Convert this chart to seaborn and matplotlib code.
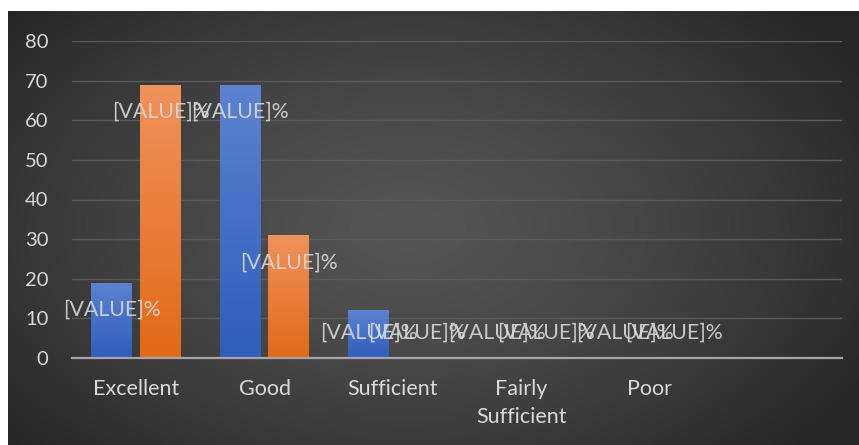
import numpy as np
import pandas as pd
import matplotlib
matplotlib.use("Agg")
import matplotlib.pyplot as plt
import seaborn as sns

# --- data ---
categories = ["Excellent", "Good", "Sufficient", "Fairly\nSufficient", "Poor", ""]
series_1 = [19, 69, 12, 0, 0, np.nan]
series_2 = [69, 31, 0, 0, 0, np.nan]
series_names = ["Series 1", "Series 2"]
y_ticks = [0, 10, 20, 30, 40, 50, 60, 70, 80]

df = pd.DataFrame({
    "category": categories * 2,
    "value": series_1 + series_2,
    "series": [series_names[0]] * len(categories) + [series_names[1]] * len(categories),
})

sns.set_theme(style="dark")
plt.rcParams["font.family"] = ["Lato", "DejaVu Sans"]

W, H = 859, 445
fig = plt.figure(figsize=(W / 100, H / 100), dpi=100, facecolor="white")

# dark panel with a radial gradient, like the Office chart style
bg = fig.add_axes([8 / W, 0, (W - 8) / W, (H - 11) / H])
bg.set_axis_off()
yy, xx = np.mgrid[0:1:300j, 0:1:600j]
r = np.sqrt(((xx - 0.47) / 0.62) ** 2 + ((yy - 0.50) / 0.75) ** 2)
r = np.clip(r, 0, 1)
shade = 0.33 - 0.18 * r ** 1.4
bg.imshow(np.dstack([shade] * 3), aspect="auto", extent=[0, 1, 0, 1])

ax = fig.add_axes([72 / W, (H - 358) / H, 770 / W, 317 / H])
ax.patch.set_alpha(0)

blue = "#4472c4"
orange = "#ed7d31"
sns.barplot(data=df, x="category", y="value", hue="series", order=categories,
            hue_order=series_names, palette=[blue, orange], width=0.76, gap=0.16,
            saturation=1, legend=False, ax=ax, linewidth=0)

# vertical gradients inside the bars
grads = {
    blue: np.array([[0x5d, 0x83, 0xcf], [0x2e, 0x5d, 0xbc]]) / 255,
    orange: np.array([[0xf0, 0x92, 0x5c], [0xe2, 0x6a, 0x18]]) / 255,
}
t = np.linspace(0, 1, 100)[:, None]
for patch in ax.patches:
    h = patch.get_height()
    if not np.isfinite(h) or h <= 0:
        continue
    fc = np.array(patch.get_facecolor()[:3])
    key = blue if np.abs(fc - np.array(matplotlib.colors.to_rgb(blue))).sum() < 0.1 else orange
    top, bot = grads[key]
    img = (top[None, :] * (1 - t) + bot[None, :] * t)[:, None, :]
    x0 = patch.get_x()
    im = ax.imshow(img, aspect="auto", extent=[x0, x0 + patch.get_width(), 0, h],
                   zorder=patch.get_zorder() + 0.1)
    im.set_clip_path(patch)

ax.set_xlim(-0.5, len(categories) - 0.5)
ax.set_ylim(0, 80)
ax.set_yticks(y_ticks)
ax.set_xlabel("")
ax.set_ylabel("")

txt = "#d9d9d9"
ax.tick_params(axis="y", length=0, pad=17, labelsize=14.5, labelcolor=txt)
ax.tick_params(axis="x", length=0, pad=15, labelsize=15.5, labelcolor=txt)
for lbl in ax.get_xticklabels():
    lbl.set_linespacing(1.5)
    lbl.set_verticalalignment("top")

for s in ["top", "right", "left"]:
    ax.spines[s].set_visible(False)
ax.spines["bottom"].set_color("#a6a6a6")
ax.spines["bottom"].set_linewidth(1.6)
ax.grid(axis="y", color="#5a5a5a", linewidth=1.0)
ax.grid(axis="x", visible=False)
ax.set_axisbelow(True)

# "[VALUE]%" placeholder labels, slightly below the bar tops
for patch in ax.patches:
    h = patch.get_height()
    if not np.isfinite(h):
        continue
    xc = patch.get_x() + patch.get_width() / 2
    ax.text(xc, max(h - 6.9, 6.3), "[VALUE]%", ha="center", va="center",
            fontsize=15.3, color=txt, alpha=0.9, zorder=5)

fig.savefig("out.png", dpi=100, facecolor=fig.get_facecolor())
